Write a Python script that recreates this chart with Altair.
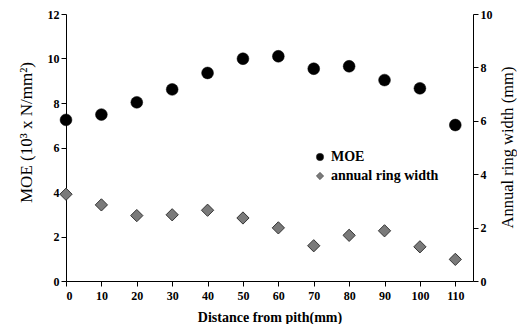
import altair as alt
import pandas as pd

distance = [0, 10, 20, 30, 40, 50, 60, 70, 80, 90, 100, 110]
moe = [7.24, 7.48, 8.03, 8.61, 9.35, 9.99, 10.1, 9.54, 9.65, 9.03, 8.66, 7.01]
ring_width = [3.25, 2.85, 2.45, 2.48, 2.65, 2.36, 1.99, 1.32, 1.71, 1.88, 1.28, 0.81]
series_names = ["MOE", "annual ring width"]

df = pd.DataFrame({"d": distance, "moe": moe, "rw": ring_width})

FONT = "Liberation Serif"

x = alt.X("d:Q", scale=alt.Scale(domain=[0, 115], nice=False),
          axis=alt.Axis(values=distance, title="Distance from pith(mm)", grid=False,
                        labelFontWeight="bold", titleFontWeight="bold", titleFontSize=14,
                        labelFontSize=12, titlePadding=9, labelPadding=4,
                        domainColor="black", tickColor="black", labelColor="black",
                        titleColor="black", labelFont=FONT, titleFont=FONT))

color = alt.Color("s:N", scale=alt.Scale(domain=series_names, range=["black", "#7a7a7a"]),
                  legend=alt.Legend(title=None, orient="none", legendX=247, legendY=136,
                                    labelFont=FONT, labelFontWeight="bold", labelFontSize=14,
                                    labelColor="black", symbolSize=55, rowPadding=5,
                                    labelOffset=4,
                                    symbolStrokeColor="#333", symbolStrokeWidth=0.5))
shape = alt.Shape("s:N", scale=alt.Scale(domain=series_names, range=["circle", "diamond"]),
                  legend=None)

l1 = alt.Chart(df).transform_calculate(s="'MOE'").mark_point(
    filled=True, size=140, opacity=1, stroke="black", strokeWidth=0.5).encode(
    x=x,
    y=alt.Y("moe:Q", scale=alt.Scale(domain=[0, 12], nice=False),
            axis=alt.Axis(values=[0, 2, 4, 6, 8, 10, 12], title="MOE (10³ x N/mm²)",
                          grid=False, labelFontWeight="bold", titleFontWeight="normal",
                          titleFontSize=17, labelFontSize=12, titlePadding=12,
                          titleY=118,
                          domainColor="black", tickColor="black", labelColor="black",
                          titleColor="black", labelFont=FONT, titleFont=FONT)),
    color=color, shape=shape)

l2 = alt.Chart(df).transform_calculate(s="'annual ring width'").mark_point(
    filled=True, size=150, opacity=1, stroke="#333", strokeWidth=1).encode(
    x=x,
    y=alt.Y("rw:Q", scale=alt.Scale(domain=[0, 10], nice=False),
            axis=alt.Axis(orient="right", values=[0, 2, 4, 6, 8, 10],
                          title="Annual ring width (mm)", grid=False, titleAngle=270,
                          titleBaseline="middle", titleX=34, titleY=133,
                          labelFontWeight="bold", titleFontWeight="normal",
                          titleFontSize=16.5, labelFontSize=12,
                          domainColor="black", tickColor="black", labelColor="black",
                          titleColor="black", labelFont=FONT, titleFont=FONT)),
    color=color, shape=shape)

chart = alt.layer(l1, l2).resolve_scale(y="independent").properties(
    width=407, height=267,
    autosize=alt.AutoSizeParams(type="none"),
    padding={"left": 58, "top": 6, "right": 44, "bottom": 43},
).configure_view(stroke=None).configure_axis(tickSize=5)

chart.save("out.html", embed_options={"renderer": "svg", "actions": False})
